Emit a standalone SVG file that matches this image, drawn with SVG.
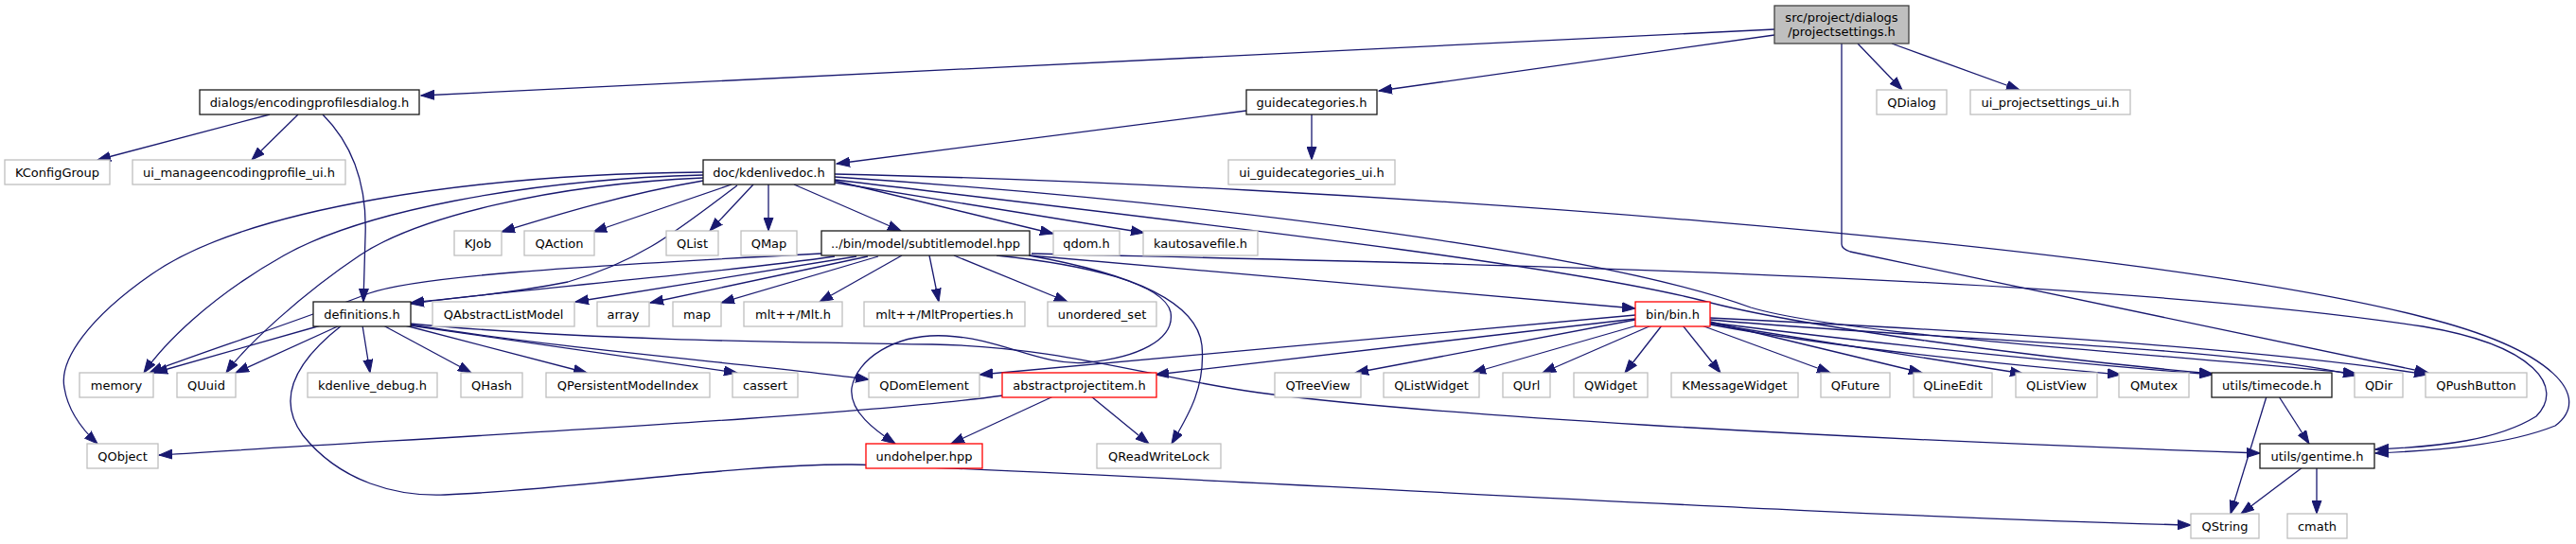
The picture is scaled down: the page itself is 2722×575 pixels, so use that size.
<svg xmlns="http://www.w3.org/2000/svg" width="2722" height="575" viewBox="0 0 2722 575">
<style>
.node rect{fill:#ffffff;stroke:#bfbfbf;stroke-width:1.3}
.node.doc rect{stroke:#1a1a1a}
.node.red rect{stroke:#ff0000}
.node.root rect{fill:#bfbfbf;stroke:#404040}
.node text{font-family:"DejaVu Sans",sans-serif;font-size:13px;text-anchor:middle;fill:#000000}
#edges path{fill:none;stroke:#191970;stroke-width:1.3;marker-end:url(#arr)}
</style>
<defs>
<marker id="arr" markerUnits="userSpaceOnUse" markerWidth="15" markerHeight="11" refX="14" refY="5.5" orient="auto">
<path d="M0,0.5 L14,5.5 L0,10.5 z" fill="#191970" stroke="#191970" stroke-width="1"/>
</marker>
</defs>
<rect width="2722" height="575" fill="#ffffff"/>
<g id="edges">
<path d="M1875,31 L445,101"/>
<path d="M1875,37 L1457,96"/>
<path d="M1963,46 L2010,95"/>
<path d="M1999,46 L2134,95"/>
<path d="M1946,46 L1946,258 C1946,262 1949,264 1955,266 L2566,394"/>
<path d="M285,121 L103,169"/>
<path d="M315,121 L266,169"/>
<path d="M341,121 C375,155 388,200 386,250 L384,319"/>
<path d="M1317,117 L884,173"/>
<path d="M1386,121 L1386,169"/>
<path d="M743,191 C660,205 585,228 530,245"/>
<path d="M773,195 L627,245"/>
<path d="M796,195 L750,244"/>
<path d="M812,195 L812,244"/>
<path d="M839,195 L952,244"/>
<path d="M882,191 L1113,247"/>
<path d="M882,193 L1209,246"/>
<path d="M779,196 C720,240 680,275 600,298 C530,312 470,316 434,320"/>
<path d="M743,182 C500,184 260,220 160,290 C95,335 62,380 68,410 C72,435 88,455 103,469"/>
<path d="M743,185 C550,190 380,225 300,270 C220,315 172,365 152,394"/>
<path d="M743,188 C580,195 440,230 380,270 C320,310 260,365 239,394"/>
<path d="M882,187 C1300,215 1700,270 1850,325 C1950,355 2300,375 2490,395"/>
<path d="M882,190 C1300,240 1650,280 1800,318 C1900,345 2150,378 2338,395"/>
<path d="M882,184 C1400,195 2250,255 2560,335 C2700,370 2740,420 2700,450 C2650,470 2580,476 2510,479"/>
<path d="M882,271 C750,290 550,305 434,321"/>
<path d="M905,271 L608,319"/>
<path d="M917,271 L687,320"/>
<path d="M928,271 L762,320"/>
<path d="M953,270 L866,319"/>
<path d="M982,270 L992,319"/>
<path d="M1008,270 L1128,319"/>
<path d="M868,268 C600,282 440,292 390,310 C300,345 190,380 158,394"/>
<path d="M1088,270 L1728,326"/>
<path d="M1090,268 C1500,278 2200,290 2560,345 C2680,365 2710,410 2680,440 C2640,465 2580,472 2510,475"/>
<path d="M1053,270 C1150,280 1230,300 1237,330 C1242,360 1200,378 1150,383 C1100,388 1060,358 1000,355 C945,352 905,380 900,410 C897,435 925,455 946,469"/>
<path d="M1087,270 C1200,290 1265,320 1270,365 C1274,410 1255,440 1238,469"/>
<path d="M339,344 L163,394"/>
<path d="M359,344 L249,394"/>
<path d="M383,344 L391,394"/>
<path d="M405,344 L498,394"/>
<path d="M428,344 L620,394"/>
<path d="M433,344 L779,394"/>
<path d="M433,343 C600,370 800,385 918,401"/>
<path d="M433,342 C620,360 850,362 985,364 C1120,366 1220,400 1330,415 C1500,438 1900,462 2388,479"/>
<path d="M361,344 C315,380 290,420 320,460 C360,510 420,525 470,523 C600,518 780,490 900,491 C1200,500 1900,545 2315,555"/>
<path d="M1060,418 C900,440 500,460 168,481"/>
<path d="M1113,419 L1005,469"/>
<path d="M1153,419 L1214,469"/>
<path d="M1728,333 L1035,396"/>
<path d="M1728,337 L1221,396"/>
<path d="M1728,338 L1432,394"/>
<path d="M1730,344 L1556,394"/>
<path d="M1745,344 L1630,394"/>
<path d="M1756,344 L1717,394"/>
<path d="M1778,344 L1818,394"/>
<path d="M1798,344 L1934,394"/>
<path d="M1807,340 L2031,394"/>
<path d="M1807,342 L2138,395"/>
<path d="M1807,343 C1950,370 2150,388 2241,396"/>
<path d="M1807,341 C2000,365 2200,385 2338,396"/>
<path d="M1807,338 C2050,360 2350,365 2490,397"/>
<path d="M1807,336 C2100,350 2400,370 2565,396"/>
<path d="M2395,419 L2357,543"/>
<path d="M2408,419 L2440,469"/>
<path d="M2433,494 L2368,543"/>
<path d="M2448,494 L2448,543"/>
</g>
<g id="n_projectsettings" class="node root"><rect x="1875" y="6" width="142" height="40"/><text x="1946" y="23">src/project/dialogs</text><text x="1946" y="38">/projectsettings.h</text></g>
<g id="n_encodingprofilesdialog" class="node doc"><rect x="211" y="95" width="232" height="26"/><text x="327" y="113">dialogs/encodingprofilesdialog.h</text></g>
<g id="n_guidecategories" class="node doc"><rect x="1317" y="95" width="138" height="26"/><text x="1386" y="113">guidecategories.h</text></g>
<g id="n_qdialog" class="node"><rect x="1983" y="95" width="74" height="26"/><text x="2020" y="113">QDialog</text></g>
<g id="n_ui_projectsettings" class="node"><rect x="2082" y="95" width="169" height="26"/><text x="2166.5" y="113">ui_projectsettings_ui.h</text></g>
<g id="n_kconfiggroup" class="node"><rect x="5" y="169" width="111" height="26"/><text x="60.5" y="187">KConfigGroup</text></g>
<g id="n_ui_manage" class="node"><rect x="140" y="169" width="225" height="26"/><text x="252.5" y="187">ui_manageencodingprofile_ui.h</text></g>
<g id="n_kdenlivedoc" class="node doc"><rect x="743" y="169" width="139" height="26"/><text x="812.5" y="187">doc/kdenlivedoc.h</text></g>
<g id="n_ui_guidecategories" class="node"><rect x="1298" y="169" width="176" height="26"/><text x="1386" y="187">ui_guidecategories_ui.h</text></g>
<g id="n_kjob" class="node"><rect x="480" y="244" width="50" height="26"/><text x="505" y="262">KJob</text></g>
<g id="n_qaction" class="node"><rect x="554" y="244" width="74" height="26"/><text x="591" y="262">QAction</text></g>
<g id="n_qlist" class="node"><rect x="704" y="244" width="55" height="26"/><text x="731.5" y="262">QList</text></g>
<g id="n_qmap" class="node"><rect x="783" y="244" width="59" height="26"/><text x="812.5" y="262">QMap</text></g>
<g id="n_subtitlemodel" class="node doc"><rect x="868" y="244" width="220" height="26"/><text x="978" y="262">../bin/model/subtitlemodel.hpp</text></g>
<g id="n_qdom" class="node"><rect x="1113" y="244" width="70" height="26"/><text x="1148" y="262">qdom.h</text></g>
<g id="n_kautosavefile" class="node"><rect x="1208" y="244" width="121" height="26"/><text x="1268.5" y="262">kautosavefile.h</text></g>
<g id="n_definitions" class="node doc"><rect x="331" y="319" width="103" height="26"/><text x="382.5" y="337">definitions.h</text></g>
<g id="n_qabstractlistmodel" class="node"><rect x="457" y="319" width="150" height="26"/><text x="532" y="337">QAbstractListModel</text></g>
<g id="n_array" class="node"><rect x="631" y="319" width="55" height="26"/><text x="658.5" y="337">array</text></g>
<g id="n_map" class="node"><rect x="711" y="319" width="51" height="26"/><text x="736.5" y="337">map</text></g>
<g id="n_mlt" class="node"><rect x="786" y="319" width="104" height="26"/><text x="838" y="337">mlt++/Mlt.h</text></g>
<g id="n_mltproperties" class="node"><rect x="913" y="319" width="170" height="26"/><text x="998" y="337">mlt++/MltProperties.h</text></g>
<g id="n_unordered_set" class="node"><rect x="1107" y="319" width="115" height="26"/><text x="1164.5" y="337">unordered_set</text></g>
<g id="n_bin" class="node red"><rect x="1728" y="319" width="79" height="26"/><text x="1767.5" y="337">bin/bin.h</text></g>
<g id="n_memory" class="node"><rect x="84" y="394" width="78" height="26"/><text x="123" y="412">memory</text></g>
<g id="n_quuid" class="node"><rect x="187" y="394" width="62" height="26"/><text x="218" y="412">QUuid</text></g>
<g id="n_kdenlive_debug" class="node"><rect x="325" y="394" width="137" height="26"/><text x="393.5" y="412">kdenlive_debug.h</text></g>
<g id="n_qhash" class="node"><rect x="487" y="394" width="65" height="26"/><text x="519.5" y="412">QHash</text></g>
<g id="n_qpersistentmodelindex" class="node"><rect x="577" y="394" width="173" height="26"/><text x="663.5" y="412">QPersistentModelIndex</text></g>
<g id="n_cassert" class="node"><rect x="774" y="394" width="69" height="26"/><text x="808.5" y="412">cassert</text></g>
<g id="n_qdomelement" class="node"><rect x="918" y="394" width="117" height="26"/><text x="976.5" y="412">QDomElement</text></g>
<g id="n_abstractprojectitem" class="node red"><rect x="1059" y="394" width="163" height="26"/><text x="1140.5" y="412">abstractprojectitem.h</text></g>
<g id="n_qtreeview" class="node"><rect x="1347" y="394" width="91" height="26"/><text x="1392.5" y="412">QTreeView</text></g>
<g id="n_qlistwidget" class="node"><rect x="1462" y="394" width="101" height="26"/><text x="1512.5" y="412">QListWidget</text></g>
<g id="n_qurl" class="node"><rect x="1588" y="394" width="50" height="26"/><text x="1613" y="412">QUrl</text></g>
<g id="n_qwidget" class="node"><rect x="1663" y="394" width="78" height="26"/><text x="1702" y="412">QWidget</text></g>
<g id="n_kmessagewidget" class="node"><rect x="1766" y="394" width="134" height="26"/><text x="1833" y="412">KMessageWidget</text></g>
<g id="n_qfuture" class="node"><rect x="1924" y="394" width="73" height="26"/><text x="1960.5" y="412">QFuture</text></g>
<g id="n_qlineedit" class="node"><rect x="2022" y="394" width="83" height="26"/><text x="2063.5" y="412">QLineEdit</text></g>
<g id="n_qlistview" class="node"><rect x="2130" y="394" width="86" height="26"/><text x="2173" y="412">QListView</text></g>
<g id="n_qmutex" class="node"><rect x="2239" y="394" width="74" height="26"/><text x="2276" y="412">QMutex</text></g>
<g id="n_timecode" class="node doc"><rect x="2337" y="394" width="127" height="26"/><text x="2400.5" y="412">utils/timecode.h</text></g>
<g id="n_qdir" class="node"><rect x="2488" y="394" width="51" height="26"/><text x="2513.5" y="412">QDir</text></g>
<g id="n_qpushbutton" class="node"><rect x="2563" y="394" width="107" height="26"/><text x="2616.5" y="412">QPushButton</text></g>
<g id="n_qobject" class="node"><rect x="92" y="469" width="75" height="26"/><text x="129.5" y="487">QObject</text></g>
<g id="n_undohelper" class="node red"><rect x="915" y="469" width="123" height="26"/><text x="976.5" y="487">undohelper.hpp</text></g>
<g id="n_qreadwritelock" class="node"><rect x="1159" y="469" width="131" height="26"/><text x="1224.5" y="487">QReadWriteLock</text></g>
<g id="n_gentime" class="node doc"><rect x="2388" y="469" width="121" height="26"/><text x="2448.5" y="487">utils/gentime.h</text></g>
<g id="n_qstring" class="node"><rect x="2315" y="543" width="72" height="26"/><text x="2351" y="561">QString</text></g>
<g id="n_cmath" class="node"><rect x="2417" y="543" width="63" height="26"/><text x="2448.5" y="561">cmath</text></g>
</svg>
